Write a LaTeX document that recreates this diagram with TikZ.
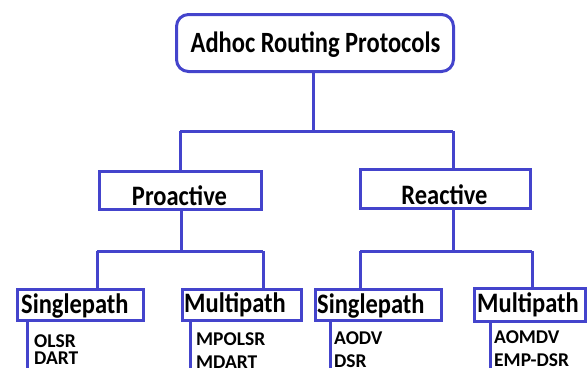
\documentclass[tikz,border=0pt]{standalone}
\usepackage{fontspec}
\setmainfont{Carlito}
\usepackage{graphicx}
\definecolor{lineblue}{RGB}{68,68,204}
\newcommand{\vstr}[2][1.15]{\scalebox{1}[#1]{#2}}
\begin{document}
\begin{tikzpicture}[x=1pt,y=-1pt,
  conn/.style={draw=lineblue, line width=3pt},
  box/.style={draw=lineblue, line width=3pt, rectangle, inner sep=0pt},
  headtxt/.style={inner sep=0pt, anchor=base, font=\bfseries\fontsize{24.5}{30}\selectfont},
  leaftxt/.style={inner sep=0pt, anchor=base west, font=\bfseries\fontsize{24.5}{30}\selectfont},
  listtxt/.style={inner sep=0pt, anchor=base west, align=left, font=\bfseries\fontsize{19.5}{23}\selectfont},
]
\useasboundingbox (0,0) rectangle (588,368);
\clip (0,0) rectangle (588,368);

% boxes
\node[box, rounded corners=12pt, minimum width=277, minimum height=57] (top) at (315,43) {};
\node[box, minimum width=162, minimum height=38] (pro) at (180.5,190.5) {};
\node[box, minimum width=170, minimum height=39] (rea) at (445.5,189) {};
\node[box, minimum width=126, minimum height=31] (ls) at (80.5,305) {};
\node[box, minimum width=119, minimum height=31] (lm) at (242,305) {};
\node[box, minimum width=126, minimum height=31] (rs) at (378.5,305) {};
\node[box, minimum width=111, minimum height=33] (rm) at (530,305) {};

% texts
\node[headtxt] (toptxt) at (315.5,52) {\vstr[1.2]{Adhoc Routing Protocols}};
\node[headtxt] (protxt) at (179.5,205) {\vstr{Proactive}};
\node[headtxt] (reatxt) at (444.5,204) {\vstr{Reactive}};
\node[leaftxt] (lstxt) at (21,313) {\vstr{Singlepath}};
\node[leaftxt] (lmtxt) at (184,312) {\vstr{Multipath}};
\node[leaftxt] (rstxt) at (317,313) {\vstr{Singlepath}};
\node[leaftxt] (rmtxt) at (477,312) {\vstr{Multipath}};

\node[listtxt] (ol) at (34,347) {OLSR};
\node[listtxt] (da) at (34,364.5) {DART};
\node[listtxt] (mp) at (196,345) {MPOLSR};
\node[listtxt] (md) at (196,368) {MDART};
\node[listtxt] (ao) at (334,344) {AODV};
\node[listtxt] (ds) at (334,367) {DSR};
\node[listtxt] (am) at (494,343) {AOMDV};
\node[listtxt] (em) at (494,366) {EMP-DSR};

% junctions
\coordinate (j0) at (313,131);
\coordinate (pa) at (180,131);
\coordinate (ra) at (453,131);
\coordinate (pl) at (97,251);
\coordinate (pr) at (263,251);
\coordinate (rl) at (360,251);
\coordinate (rr) at (532,251);
\coordinate (pb) at (181,251);
\coordinate (l1) at (27,368);
\coordinate (l2) at (190,368);
\coordinate (l3) at (330,368);
\coordinate (l4) at (490,368);

% connectors
\draw[conn] (j0 |- top.south) -- (j0);
\draw[conn] (pa) -- (ra);
\draw[conn] (pa) -- (pa |- pro.north);
\draw[conn] (ra) -- (ra |- rea.north);
\draw[conn] (pb |- pro.south) -- (pb);
\draw[conn] (pl) -- (pr);
\draw[conn] (pl) -- (pl |- ls.north);
\draw[conn] (pr) -- (pr |- lm.north);
\draw[conn] (ra |- rea.south) -- (ra |- rl);
\draw[conn] (rl) -- (rr);
\draw[conn] (rl) -- (rl |- rs.north);
\draw[conn] (rr) -- (rr |- rm.north);
\draw[conn] (l1 |- ls.south) -- (l1);
\draw[conn] (l2 |- lm.south) -- (l2);
\draw[conn] (l3 |- rs.south) -- (l3);
\draw[conn] (l4 |- rm.south) -- (l4);
\end{tikzpicture}
\end{document}
